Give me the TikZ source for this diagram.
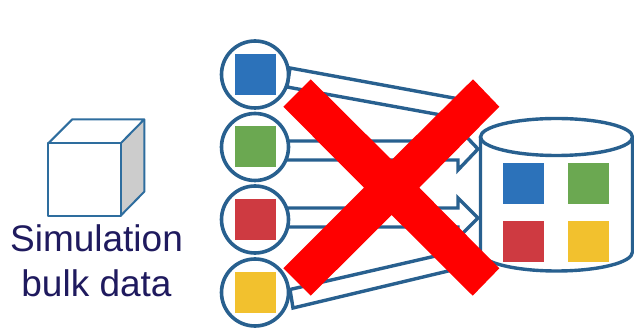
\documentclass[tikz,border=0pt]{standalone}
\usepackage{fontspec}
\setmainfont{Liberation Sans}
\definecolor{linkblue}{HTML}{28608F}
\definecolor{cubeblue}{HTML}{2E6D9E}
\definecolor{sqblue}{HTML}{2C72BA}
\definecolor{sqgreen}{HTML}{6BA851}
\definecolor{sqred}{HTML}{CE3A41}
\definecolor{sqyellow}{HTML}{F2C12E}
\definecolor{navytext}{HTML}{1F1A5E}
\tikzset{
  holder/.style={circle,draw=linkblue,line width=3.6pt,fill=white,minimum size=67pt,inner sep=0pt,outer sep=0pt},
  tile/.style={rectangle,minimum size=41pt,inner sep=0pt,outer sep=0pt,draw=none},
  blockarrow/.style={draw=linkblue,line width=3.4pt,fill=white,line join=miter},
  label/.style={text=navytext,font=\fontsize{37pt}{44pt}\selectfont,anchor=base,inner sep=0pt},
  cubeline/.style={draw=cubeblue,line width=2pt,line join=round},
}
\begin{document}
\begin{tikzpicture}[x=1pt,y=-1pt]
\useasboundingbox (0,0) rectangle (634,328);
% cube
\fill[gray!40] (120.7,143.3) -- (144.3,119.3) -- (144.3,191.7) -- (120.7,215.7) -- cycle;
\draw[cubeline] (48.3,143.3) rectangle (120.7,215.7);
\draw[cubeline] (48.3,143.3) -- (72.3,119.3) -- (144.3,119.3) -- (120.7,143.3);
\draw[cubeline] (144.3,119.3) -- (144.3,191.7) -- (120.7,215.7);
\node[label] (simtext) at (96.5,252) {Simulation};
\node[label] (bulktext) at (96.5,297) {bulk data};
% block arrows
\coordinate (a1) at (290,68);
\coordinate (a2) at (470,101);
\coordinate (a3) at (452,117);
\coordinate (a4) at (287,87);
\draw[blockarrow] (a1) -- (a2) -- (a3) -- (a4) -- cycle;
\coordinate (b1) at (280,141);
\coordinate (b2) at (458,141);
\coordinate (b3) at (458,128);
\coordinate (b4) at (478,149);
\coordinate (b5) at (458,170);
\coordinate (b6) at (458,160);
\coordinate (b7) at (280,160);
\draw[blockarrow] (b1) -- (b2) -- (b3) -- (b4) -- (b5) -- (b6) -- (b7) -- cycle;
\coordinate (c1) at (280,208);
\coordinate (c2) at (458,208);
\coordinate (c3) at (458,198);
\coordinate (c4) at (478,218);
\coordinate (c5) at (458,238);
\coordinate (c6) at (458,227);
\coordinate (c7) at (280,227);
\draw[blockarrow] (c1) -- (c2) -- (c3) -- (c4) -- (c5) -- (c6) -- (c7) -- cycle;
\coordinate (d1) at (290,289.5);
\coordinate (d2) at (440,255);
\coordinate (d3) at (465,267);
\coordinate (d4) at (293,308);
\draw[blockarrow] (d1) -- (d2) -- (d3) -- (d4) -- cycle;
% source circles
\node[holder] (c blue) at (255,74.5) {};
\node[holder] (c green) at (255,147) {};
\node[holder] (c red) at (255,219.5) {};
\node[holder] (c yellow) at (255,292.5) {};
\node[tile,fill=sqblue] (t blue) at (255,74.5) {};
\node[tile,fill=sqgreen] (t green) at (255,147) {};
\node[tile,fill=sqred] (t red) at (255,219.5) {};
\node[tile,fill=sqyellow] (t yellow) at (255,292.5) {};
% cylinder
\draw[draw=linkblue,line width=3.4pt,fill=white] (480.5,137) -- (480.5,252) arc[start angle=180,end angle=0,x radius=76,y radius=19] -- (632.5,137);
\draw[draw=linkblue,line width=3.4pt,fill=white] (556.5,137) ellipse[x radius=76,y radius=18.5];
\node[tile,fill=sqblue] (d blue) at (523.4,183.7) {};
\node[tile,fill=sqgreen] (d green) at (588,183.7) {};
\node[tile,fill=sqred] (d red) at (523.4,241.8) {};
\node[tile,fill=sqyellow] (d yellow) at (588,241.8) {};
% cross
\fill[red] (310.7,79.3) -- (391.7,159.8) -- (473,79.3) -- (499.3,106.7) -- (419.3,187.7)
  -- (499.3,268.3) -- (472.7,295.7) -- (391.7,215) -- (310.7,295.7) -- (283.3,268.3)
  -- (364,187.7) -- (283.3,106.7) -- cycle;
\end{tikzpicture}
\end{document}
